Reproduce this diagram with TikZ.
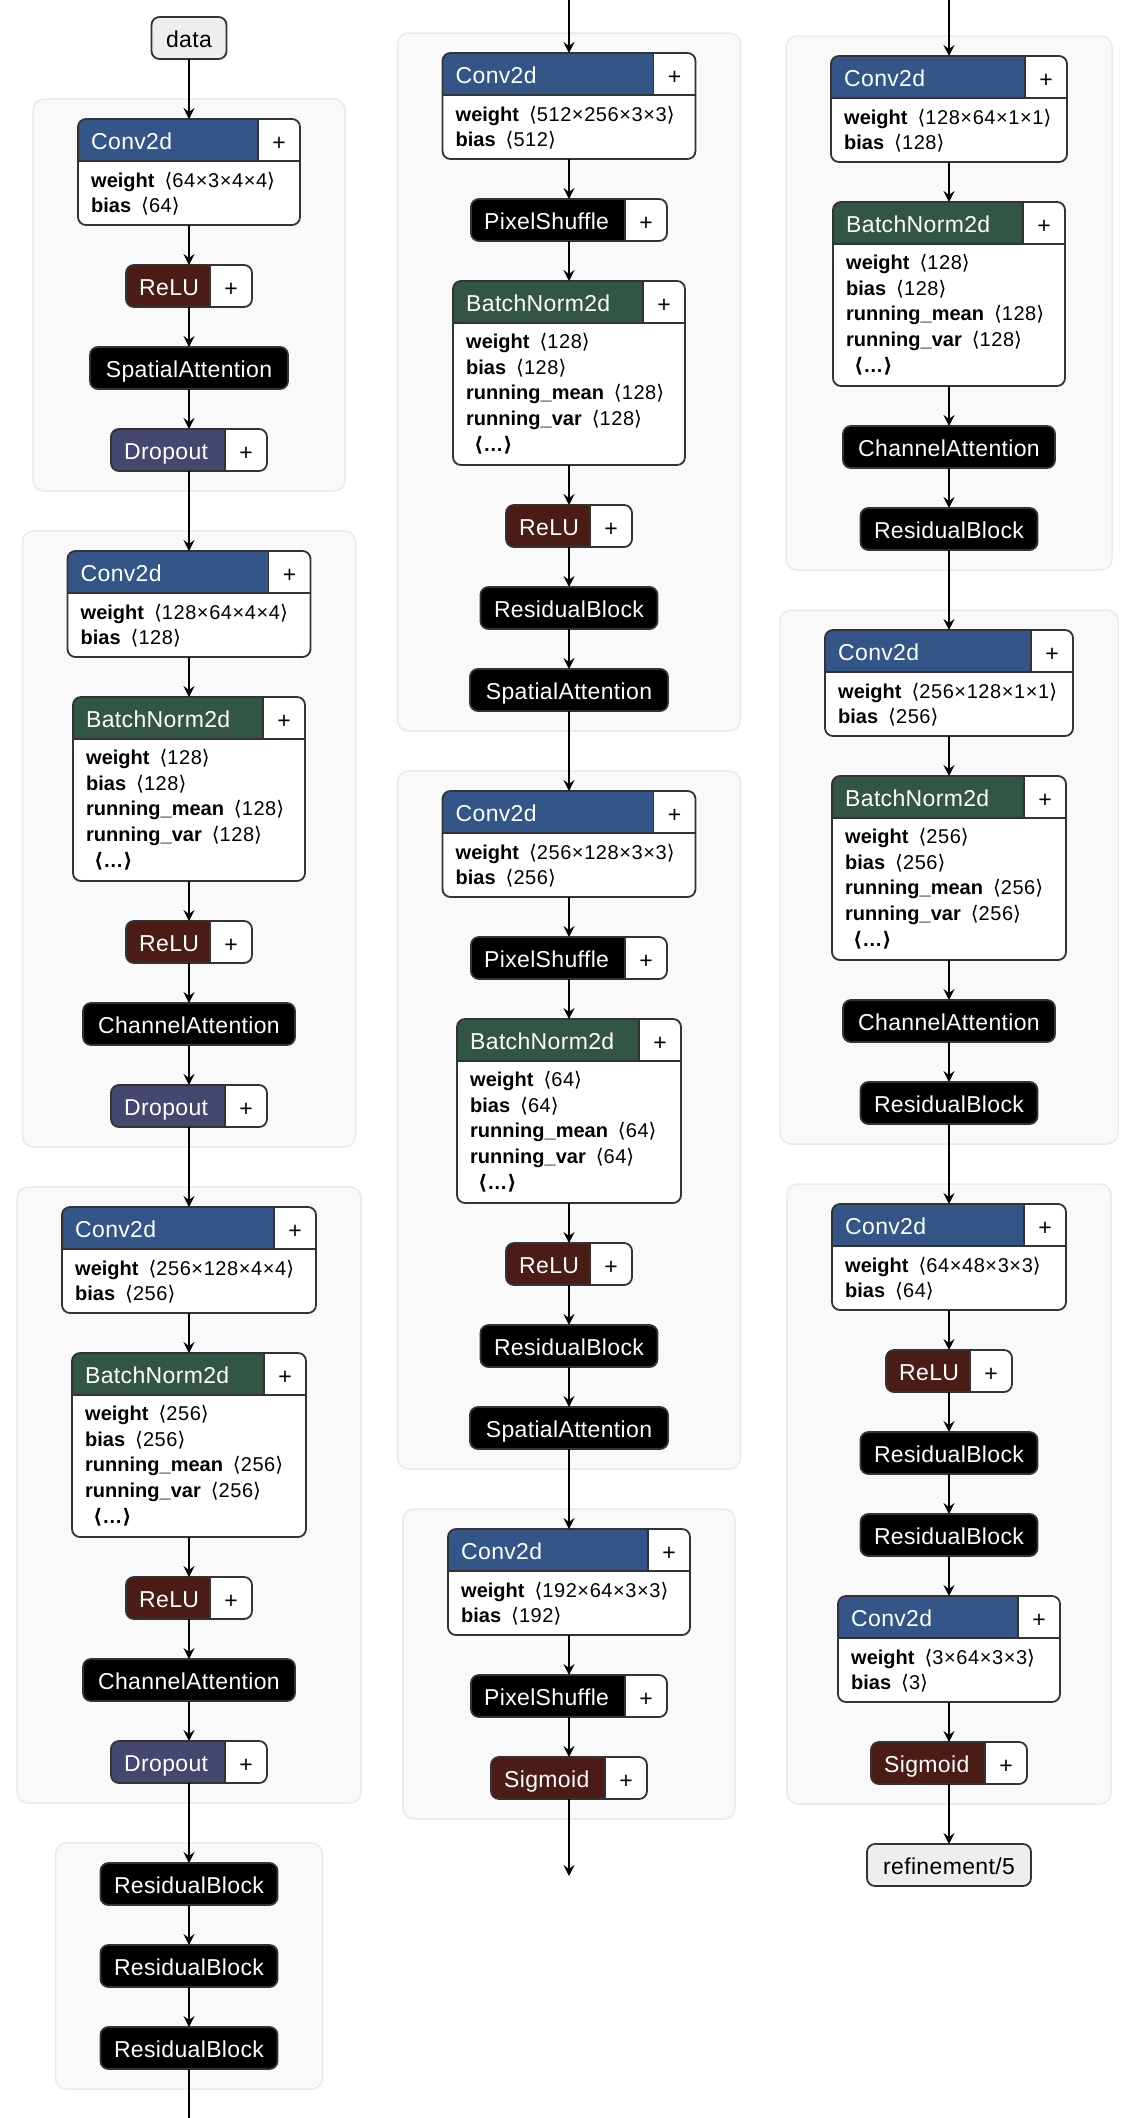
\documentclass[tikz,border=0pt]{standalone}
\usepackage{fontspec}
\setmainfont{Liberation Sans}
\newfontfamily\symfont{DejaVu Sans}
\newfontfamily\hdrface{Liberation Sans}[LetterSpace=1.5]
\newfontfamily\valface{Liberation Sans}[LetterSpace=3.0]
\usetikzlibrary{arrows.meta,fit}

\definecolor{layercol}{RGB}{51,85,136}
\definecolor{normcol}{RGB}{51,85,68}
\definecolor{actcol}{RGB}{75,27,22}
\definecolor{dropcol}{RGB}{69,71,112}
\definecolor{bordercol}{RGB}{51,51,51}
\definecolor{inputcol}{RGB}{238,238,238}
\definecolor{groupfill}{RGB}{249,249,249}
\definecolor{groupline}{RGB}{234,234,234}

\newcommand\hdrfont{\hdrface\fontsize{23}{27}\selectfont}
\newcommand\plusfont{\fontsize{23}{27}\selectfont}
\newcommand\attrfont{\fontsize{20}{24}\selectfont}
\newcommand\lang{{\symfont ⟨}}
\newcommand\rang{{\symfont ⟩}}
\newcommand\attr[2]{\textbf{#1}\hspace{10pt}\lang{\valface #2}\rang}
\newcommand\more{\hspace{8pt}\textbf{\lang…\rang}}

\tikzset{
  nodebox/.style={draw=bordercol, line width=1.8pt, rounded corners=8pt},
  sepline/.style={draw=bordercol, line width=1.8pt},
  grp/.style={fill=groupfill, draw=groupline, line width=1.5pt, rounded corners=11pt},
  conn/.style={draw=black, line width=2pt, -{Stealth[length=11pt,width=11pt,inset=4pt]}},
  bareconn/.style={draw=black, line width=2pt},
  hdr/.style={font=\hdrfont, inner sep=0pt, text=white},
  plusmark/.style={font=\plusfont, inner sep=0pt, anchor=base, text=black},
  attrrow/.style={font=\attrfont, inner sep=0pt, anchor=base west, text=black},
  anchorbox/.style={inner sep=0pt, outer sep=0pt, draw=none},
}

% box edges from centre x, width and top
\newcommand\setedges[3]{%
  \pgfmathsetmacro\xl{#1-#2/2}%
  \pgfmathsetmacro\xr{#1+#2/2}%
  \pgfmathsetmacro\xs{\xr-42}%
  \pgfmathsetmacro\yt{#3}%
  \pgfmathsetmacro\yh{#3+42}%
  \pgfmathsetmacro\tx{\xl+13}%
  \pgfmathsetmacro\ty{#3+30}%
  \pgfmathsetmacro\px{\xr-21}%
  \pgfmathsetmacro\py{#3+31}%
}

% operator: coloured title cell, "+" cell, optional attribute body
% name, cx, width, top, height, colour, title
\newcommand\opbox[7]{%
  \setedges{#2}{#3}{#4}%
  \pgfmathsetmacro\yb{#4+#5}%
  \begin{scope}
    \clip[rounded corners=8pt] (\xl,\yt) rectangle (\xr,\yb);
    \fill[white] (\xl,\yt) rectangle (\xr,\yb);
    \fill[#6] (\xl,\yt) rectangle (\xs,\yh);
    \draw[sepline] (\xs,\yt) -- (\xs,\yh);
    \ifdim#5pt>42pt \draw[sepline] (\xl,\yh) -- (\xr,\yh);\fi
  \end{scope}
  \draw[nodebox] (\xl,\yt) rectangle (\xr,\yb);
  \node[hdr, anchor=base west] at (\tx,\ty) {#7};
  \node[plusmark] at (\px,\py) {+};
  \node[anchorbox, fit={(\xl,\yt) (\xr,\yb)}] (#1) {};
}

% Conv2d: name, cx, width, top, weight shape, bias shape
\newcommand\convop[6]{%
  \opbox{#1}{#2}{#3}{#4}{106}{layercol}{Conv2d}%
  \pgfmathsetmacro\ra{#4+68}\pgfmathsetmacro\rb{#4+93.5}%
  \node[attrrow] at (\tx,\ra) {\attr{weight}{#5}};
  \node[attrrow] at (\tx,\rb) {\attr{bias}{#6}};
}

% BatchNorm2d: name, cx, width, top, channels
\newcommand\bnop[5]{%
  \opbox{#1}{#2}{#3}{#4}{184}{normcol}{BatchNorm2d}%
  \foreach \lbl [count=\i from 0] in {weight,bias,running\_mean,running\_var}{
    \pgfmathsetmacro\ry{#4+67.5+25.7*\i}
    \node[attrrow] at (\tx,\ry) {\attr{\lbl}{#5}};
  }
  \pgfmathsetmacro\ry{#4+170.3}%
  \node[attrrow] at (\tx,\ry) {\more};
}

% plain black module: name, cx, width, top, title
\newcommand\blackop[5]{%
  \setedges{#2}{#3}{#4}\pgfmathsetmacro\yb{#4+42}%
  \draw[nodebox, fill=black] (\xl,\yt) rectangle (\xr,\yb);
  \node[hdr, anchor=base] at (#2,\ty) {#5};
  \node[anchorbox, fit={(\xl,\yt) (\xr,\yb)}] (#1) {};
}

% graph input / output: name, cx, width, top, title
\newcommand\ioop[5]{%
  \setedges{#2}{#3}{#4}\pgfmathsetmacro\yb{#4+42}%
  \draw[nodebox, fill=inputcol] (\xl,\yt) rectangle (\xr,\yb);
  \node[hdr, anchor=base, text=black] at (#2,\ty) {#5};
  \node[anchorbox, fit={(\xl,\yt) (\xr,\yb)}] (#1) {};
}

% module group: cx, width, top, bottom
\newcommand\grp[4]{%
  \pgfmathsetmacro\gl{#1-#2/2}\pgfmathsetmacro\gr{#1+#2/2}%
  \draw[grp] (\gl,#3) rectangle (\gr,#4);
}

\begin{document}
\begin{tikzpicture}[x=1pt, y=-1pt]
\fill[white] (0,0) rectangle (1140,2118);
\useasboundingbox (0,0) rectangle (1140,2118);

% ---------- groups ----------
\grp{189}{312}{99}{491}
\grp{189}{333}{531}{1147}
\grp{189}{344}{1187}{1803}
\grp{189}{267}{1843}{2089}

\grp{569}{343}{33}{731}
\grp{569}{343}{771}{1469}
\grp{569}{332}{1509}{1819}

\grp{949}{326}{36}{570}
\grp{949}{338}{610}{1144}
\grp{949}{324}{1184}{1804}

% ---------- encoder column ----------
\ioop{data}{189}{75}{17}{data}
\convop{c1}{189}{222}{119}{64×3×4×4}{64}
\opbox{r1}{189}{126}{265}{42}{actcol}{ReLU}
\blackop{sa1}{189}{198}{347}{SpatialAttention}
\opbox{d1}{189}{156}{429}{42}{dropcol}{Dropout}

\convop{c2}{189}{243}{551}{128×64×4×4}{128}
\bnop{b2}{189}{232}{697}{128}
\opbox{r2}{189}{126}{921}{42}{actcol}{ReLU}
\blackop{ca2}{189}{212}{1003}{ChannelAttention}
\opbox{d2}{189}{156}{1085}{42}{dropcol}{Dropout}

\convop{c3}{189}{254}{1207}{256×128×4×4}{256}
\bnop{b3}{189}{234}{1353}{256}
\opbox{r3}{189}{126}{1577}{42}{actcol}{ReLU}
\blackop{ca3}{189}{212}{1659}{ChannelAttention}
\opbox{d3}{189}{156}{1741}{42}{dropcol}{Dropout}

\blackop{rb1}{189}{177}{1863}{ResidualBlock}
\blackop{rb2}{189}{177}{1945}{ResidualBlock}
\blackop{rb3}{189}{177}{2027}{ResidualBlock}
\coordinate (lend) at (189,2125);

% ---------- decoder column ----------
\coordinate (mstart) at (569,-5);
\convop{cm1}{569}{253}{53}{512×256×3×3}{512}
\opbox{ps1}{569}{196}{199}{42}{black}{PixelShuffle}
\bnop{bm1}{569}{232}{281}{128}
\opbox{rm1}{569}{126}{505}{42}{actcol}{ReLU}
\blackop{rbm1}{569}{177}{587}{ResidualBlock}
\blackop{sam1}{569}{198}{669}{SpatialAttention}

\convop{cm2}{569}{253}{791}{256×128×3×3}{256}
\opbox{ps2}{569}{196}{937}{42}{black}{PixelShuffle}
\bnop{bm2}{569}{224}{1019}{64}
\opbox{rm2}{569}{126}{1243}{42}{actcol}{ReLU}
\blackop{rbm2}{569}{177}{1325}{ResidualBlock}
\blackop{sam2}{569}{198}{1407}{SpatialAttention}

\convop{cm3}{569}{242}{1529}{192×64×3×3}{192}
\opbox{ps3}{569}{196}{1675}{42}{black}{PixelShuffle}
\opbox{sg3}{569}{156}{1757}{42}{actcol}{Sigmoid}
\coordinate (mend) at (569,1876);

% ---------- refinement column ----------
\coordinate (rstart) at (949,-5);
\convop{cr1}{949}{236}{56}{128×64×1×1}{128}
\bnop{br1}{949}{232}{202}{128}
\blackop{car1}{949}{212}{426}{ChannelAttention}
\blackop{rbr1}{949}{177}{508}{ResidualBlock}

\convop{cr2}{949}{248}{630}{256×128×1×1}{256}
\bnop{br2}{949}{234}{776}{256}
\blackop{car2}{949}{212}{1000}{ChannelAttention}
\blackop{rbr2}{949}{177}{1082}{ResidualBlock}

\convop{cr3}{949}{234}{1204}{64×48×3×3}{64}
\opbox{rr3}{949}{126}{1350}{42}{actcol}{ReLU}
\blackop{rbr3}{949}{177}{1432}{ResidualBlock}
\blackop{rbr4}{949}{177}{1514}{ResidualBlock}
\convop{cr4}{949}{222}{1596}{3×64×3×3}{3}
\opbox{sgr}{949}{156}{1742}{42}{actcol}{Sigmoid}
\ioop{out}{949}{164}{1844}{refinement/5}

% ---------- connectors ----------
\foreach \a/\b in {data/c1,c1/r1,r1/sa1,sa1/d1,d1/c2,c2/b2,b2/r2,r2/ca2,ca2/d2,d2/c3,
  c3/b3,b3/r3,r3/ca3,ca3/d3,d3/rb1,rb1/rb2,rb2/rb3,
  mstart/cm1,cm1/ps1,ps1/bm1,bm1/rm1,rm1/rbm1,rbm1/sam1,sam1/cm2,cm2/ps2,ps2/bm2,
  bm2/rm2,rm2/rbm2,rbm2/sam2,sam2/cm3,cm3/ps3,ps3/sg3,sg3/mend,
  rstart/cr1,cr1/br1,br1/car1,car1/rbr1,rbr1/cr2,cr2/br2,br2/car2,car2/rbr2,rbr2/cr3,
  cr3/rr3,rr3/rbr3,rbr3/rbr4,rbr4/cr4,cr4/sgr,sgr/out}
  \draw[conn] (\a) -- (\b);
\draw[bareconn] (rb3) -- (lend);
\end{tikzpicture}
\end{document}
